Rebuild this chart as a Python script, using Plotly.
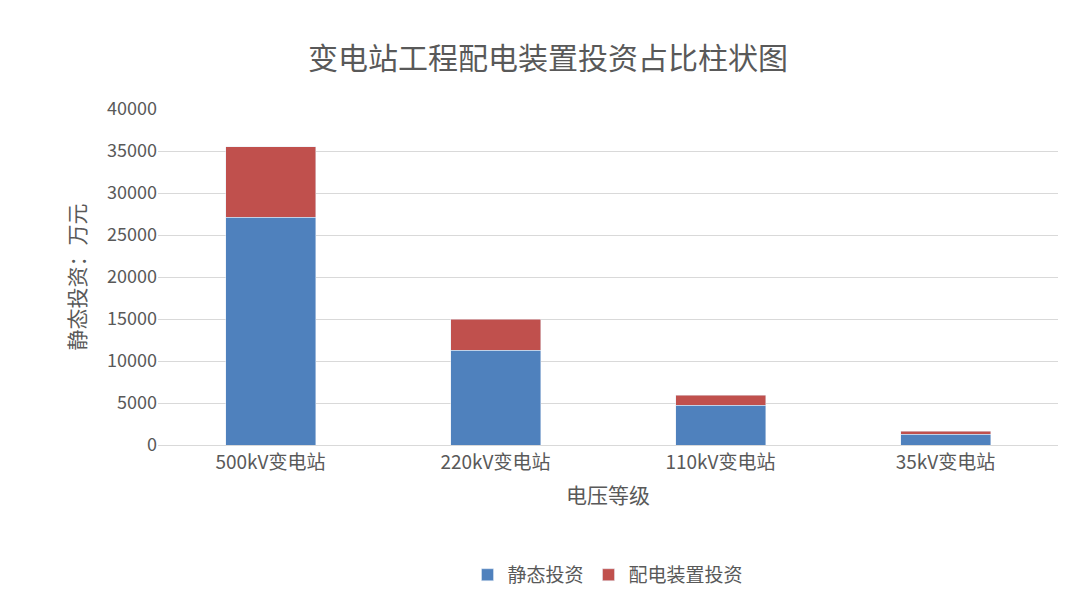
import plotly.graph_objects as go

categories = ["500kV变电站", "220kV变电站", "110kV变电站", "35kV变电站"]
static_invest = [27100, 11300, 4750, 1300]
distrib_invest = [8400, 3700, 1200, 350]

font = "Noto Sans CJK SC"
fig = go.Figure()
fig.add_bar(x=categories, y=static_invest, name="静态投资", marker_color="#4F81BD")
fig.add_bar(x=categories, y=distrib_invest, name="配电装置投资", marker_color="#C0504D")
fig.update_layout(
    barmode="stack", bargap=0.6,
    width=1080, height=615,
    paper_bgcolor="white", plot_bgcolor="white",
    font=dict(family=font, color="#595959", size=19),
    title=dict(text="变电站工程配电装置投资占比柱状图", x=0.5, y=0.935, xanchor="center",
               font=dict(size=30, color="#595959")),
    margin=dict(l=150, r=30, t=101, b=178),
    legend=dict(orientation="h", x=0.5, xanchor="center", y=-0.33, yanchor="top",
                traceorder="normal", font=dict(size=19)),
    xaxis=dict(title=dict(text="电压等级", font=dict(size=21)), showline=True,
               linecolor="#D9D9D9", tickfont=dict(size=19)),
    yaxis=dict(title=dict(text="静态投资：万元", font=dict(size=21)), range=[0, 40000],
               dtick=5000, gridcolor="#D9D9D9", tickfont=dict(size=18),
               tickformat="d", zeroline=False),
)
fig.write_html("out.html")
